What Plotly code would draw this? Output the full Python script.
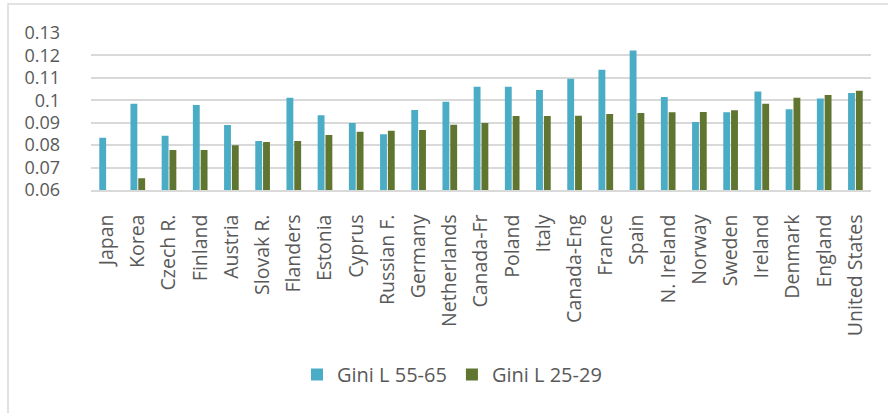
import plotly.graph_objects as go

countries = ["Japan", "Korea", "Czech R.", "Finland", "Austria", "Slovak R.", "Flanders",
             "Estonia", "Cyprus", "Russian F.", "Germany", "Netherlands", "Canada-Fr",
             "Poland", "Italy", "Canada-Eng", "France", "Spain", "N. Ireland", "Norway",
             "Sweden", "Ireland", "Denmark", "England", "United States"]
gini_55_65 = [0.0833, 0.0985, 0.0842, 0.0979, 0.0890, 0.0819, 0.1011,
              0.0933, 0.0899, 0.0849, 0.0957, 0.0993, 0.1060,
              0.1060, 0.1046, 0.1096, 0.1136, 0.1222, 0.1015, 0.0903,
              0.0947, 0.1039, 0.0960, 0.1008, 0.1033]
gini_25_29 = [None, 0.0652, 0.0778, 0.0778, 0.0800, 0.0814, 0.0818,
              0.0845, 0.0860, 0.0864, 0.0867, 0.0891, 0.0899,
              0.0930, 0.0930, 0.0931, 0.0939, 0.0943, 0.0947, 0.0948,
              0.0956, 0.0984, 0.1011, 0.1024, 0.1043]
y_ticks = [0.06, 0.07, 0.08, 0.09, 0.10, 0.11, 0.12, 0.13]
y_tick_labels = ["0.06", "0.07", "0.08", "0.09", "0.1", "0.11", "0.12", "0.13"]

FONT = "Open Sans"
TXT = "#595959"

fig = go.Figure()
fig.add_trace(go.Bar(x=countries, y=gini_55_65, name="Gini L 55-65",
                     marker=dict(color="#4BACC6", line=dict(width=0))))
fig.add_trace(go.Bar(x=countries, y=gini_25_29, name="Gini L 25-29",
                     marker=dict(color="#5F7530", line=dict(width=0))))

L, R, T, B = 91, 17, 33, 223
W, H = 888, 413
pw, ph = W - L - R, H - T - B

def px2x(p):
    return (p - L) / pw

def px2y(p):
    return (H - B - p) / ph

fig.add_shape(type="rect", xref="paper", yref="paper",
              x0=px2x(8), x1=px2x(900), y0=px2y(4), y1=px2y(430),
              line=dict(color="#D9D9D9", width=1.5), fillcolor="rgba(0,0,0,0)", layer="below")

fig.update_layout(
    width=W, height=H,
    margin=dict(l=L, r=R, t=T, b=B),
    paper_bgcolor="white", plot_bgcolor="white",
    barmode="group", bargap=0.5, bargroupgap=0.12,
    font=dict(family=FONT, color=TXT, size=19),
    showlegend=True,
    legend=dict(orientation="h", x=px2x(297), xanchor="left", y=px2y(355), yanchor="top",
                font=dict(family=FONT, size=20, color=TXT), itemwidth=30,
                traceorder="normal", bgcolor="rgba(0,0,0,0)"),
    xaxis=dict(tickangle=-90, showgrid=False, showline=True, linecolor="#D9D9D9", linewidth=1.5,
               ticks="", ticklabelstandoff=15,
               tickfont=dict(family=FONT, size=19.5, color=TXT), automargin=False),
    yaxis=dict(range=[0.06, 0.13], tickvals=y_ticks, ticktext=y_tick_labels,
               showgrid=True, gridcolor="#D9D9D9", gridwidth=1.5, zeroline=False,
               showline=False, ticks="", ticklabelstandoff=30,
               tickfont=dict(family=FONT, size=18, color=TXT), automargin=False),
)

fig.write_html("out.html", config={"displayModeBar": False},
               post_script="document.body.style.margin='0';")
